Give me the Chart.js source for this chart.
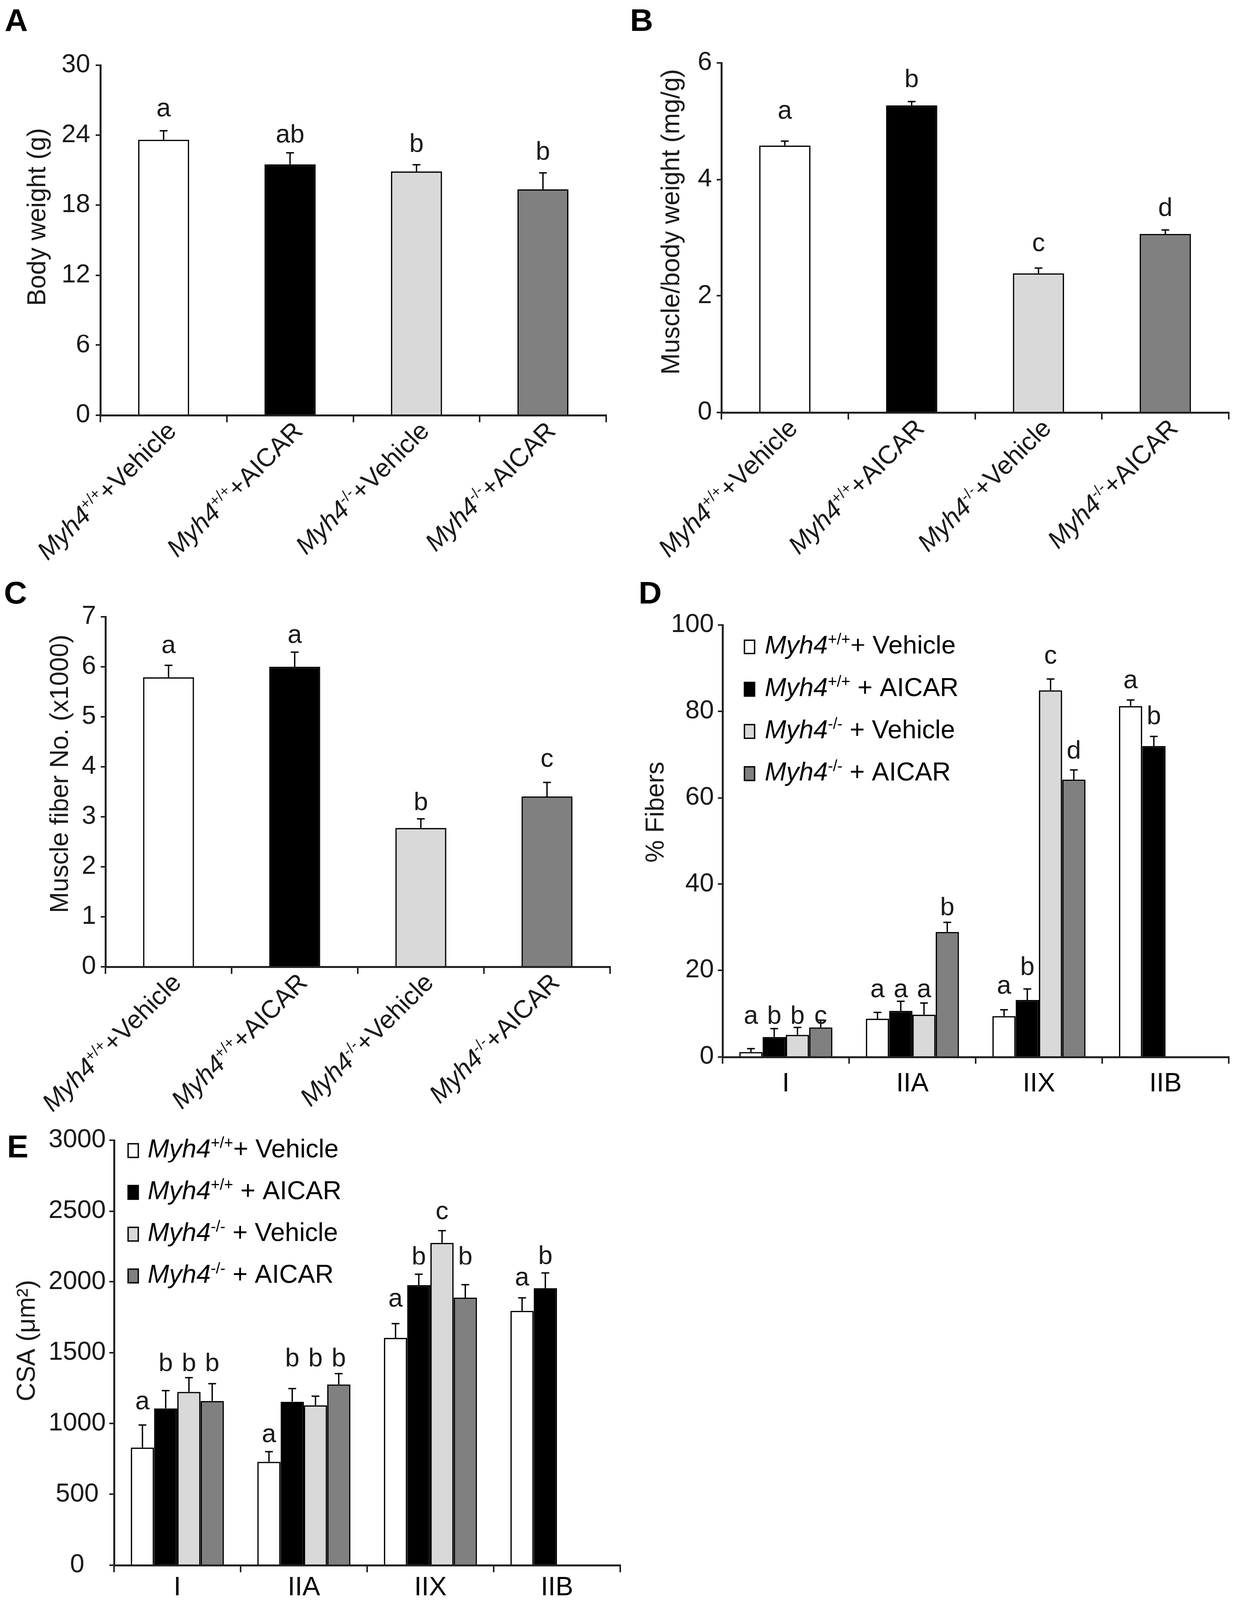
<!DOCTYPE html>
<html><head><meta charset="utf-8">
<script src="https://cdn.jsdelivr.net/npm/chart.js@4.4.1/dist/chart.umd.min.js"></script>
<style>
html,body{margin:0;padding:0;background:#fff;overflow:hidden;}
#root{width:3162px;height:4127px;position:absolute;left:0;top:0;transform-origin:0 0;}
canvas{position:absolute;}
</style></head><body>
<div id="root">
<canvas id="cA"></canvas><canvas id="cB"></canvas><canvas id="cC"></canvas><canvas id="cD"></canvas><canvas id="cE"></canvas>
</div>
<script>
// ---------------- data ----------------
const groupLabels = ['Myh4+/++Vehicle', 'Myh4+/++AICAR', 'Myh4-/-+Vehicle', 'Myh4-/-+AICAR'];
const groupColors = ['#ffffff', '#000000', '#d9d9d9', '#808080'];

const bodyWeightTicks = [0, 6, 12, 18, 24, 30];
const bodyWeight = [23.6, 21.5, 20.9, 19.35];
const bodyWeightErr = [0.76, 0.98, 0.57, 1.43];
const bodyWeightLetters = ['a', 'ab', 'b', 'b'];
const bodyWeightLetterAt = [25.6, 23.35, 22.57, 21.9];

const muscleRatioTicks = [0, 2, 4, 6];
const muscleRatio = [4.58, 5.27, 2.39, 3.06];
const muscleRatioErr = [0.075, 0.065, 0.09, 0.075];
const muscleRatioLetters = ['a', 'b', 'c', 'd'];
const muscleRatioLetterAt = [5.04, 5.58, 2.77, 3.37];

const fiberNoTicks = [0, 1, 2, 3, 4, 5, 6, 7];
const fiberNo = [5.79, 6.0, 2.78, 3.41];
const fiberNoErr = [0.24, 0.29, 0.18, 0.28];
const fiberNoLetters = ['a', 'a', 'b', 'c'];
const fiberNoLetterAt = [6.27, 6.48, 3.13, 4.0];

const fiberTypes = ['I', 'IIA', 'IIX', 'IIB'];
const seriesNames = ['Myh4+/++ Vehicle', 'Myh4+/+ + AICAR', 'Myh4-/- + Vehicle', 'Myh4-/- + AICAR'];

const pctTicks = [0, 20, 40, 60, 80, 100];
const pctWtVehicle = [1.15, 8.8, 9.4, 81.2];
const pctWtAicar = [4.6, 10.6, 13.2, 72.0];
const pctKoVehicle = [5.1, 9.75, 84.9, null];
const pctKoAicar = [6.8, 28.9, 64.2, null];
const pctWtVehicleErr = [0.77, 1.45, 1.46, 1.38];
const pctWtAicarErr = [1.92, 2.3, 2.53, 2.22];
const pctKoVehicleErr = [1.69, 2.76, 2.61, null];
const pctKoAicarErr = [1.69, 2.23, 2.22, null];
const pctWtVehicleLetters = ['a', 'a', 'a', 'a'];
const pctWtAicarLetters = ['b', 'a', 'b', 'b'];
const pctKoVehicleLetters = ['b', 'a', 'c', ''];
const pctKoAicarLetters = ['c', 'b', 'd', ''];
const pctWtVehicleLetterAt = [7.67, 13.8, 14.6, 85.4];
const pctWtAicarLetterAt = [7.67, 13.8, 18.9, 77.0];
const pctKoVehicleLetterAt = [7.67, 13.8, 91.0, null];
const pctKoAicarLetterAt = [7.67, 32.8, 69.0, null];

const csaTicks = [0, 500, 1000, 1500, 2000, 2500, 3000];
const csaWtVehicle = [830, 730, 1604, 1796];
const csaWtAicar = [1107, 1154, 1976, 1955];
const csaKoVehicle = [1223, 1129, 2275, null];
const csaKoAicar = [1159, 1275, 1889, null];
const csaWtVehicleErr = [158, 71, 100, 91];
const csaWtAicarErr = [125, 92, 77, 107];
const csaKoVehicleErr = [100, 64, 86, null];
const csaKoAicarErr = [121, 76, 91, null];
const csaWtVehicleLetters = ['a', 'a', 'a', 'a'];
const csaWtAicarLetters = ['b', 'b', 'b', 'b'];
const csaKoVehicleLetters = ['b', 'b', 'c', ''];
const csaKoAicarLetters = ['b', 'b', 'b', ''];
const csaWtVehicleLetterAt = [1100, 867, 1825, 1974];
const csaWtAicarLetterAt = [1369, 1403, 2122, 2126];
const csaKoVehicleLetterAt = [1369, 1403, 2441, null];
const csaKoAicarLetterAt = [1369, 1403, 2122, null];

// ---------------- drawing helpers ----------------
const FAM = '"Liberation Sans", Arial, Helvetica, sans-serif';
const INK = '#1a1a1a';
const AXIS = '#222222';
Chart.defaults.font.family = FAM;
Chart.defaults.color = INK;

function richParts(text) {
  const m = text.match(/^(Myh4)([+\-]\/[+\-])(.*)$/);
  if (!m) return [{t: text, k: 'n'}];
  return [{t: m[1], k: 'i'}, {t: m[2], k: 's'}, {t: m[3], k: 'n'}];
}
function partFont(k, size) {
  if (k === 'i') return 'italic ' + size + 'px ' + FAM;
  if (k === 's') return Math.round(size * 0.6) + 'px ' + FAM;
  return size + 'px ' + FAM;
}
function drawRich(ctx, text, x, y, size, align) {
  const parts = richParts(text);
  let total = 0;
  parts.forEach(p => { ctx.font = partFont(p.k, size); p.w = ctx.measureText(p.t).width; total += p.w; });
  let cx = align === 'right' ? x - total : x;
  ctx.textAlign = 'left';
  ctx.textBaseline = 'alphabetic';
  parts.forEach(p => {
    ctx.font = partFont(p.k, size);
    ctx.fillText(p.t, cx, p.k === 's' ? y - size * 0.36 : y);
    cx += p.w;
  });
}

function extras(cfg) {
  return {
    id: 'extras' + cfg.panel,
    afterDatasetsDraw(chart) {
      const ctx = chart.ctx, ys = chart.scales.y, xs = chart.scales.x, area = chart.chartArea;
      ctx.save();
      ctx.fillStyle = INK;
      ctx.strokeStyle = '#000';
      // error bars (upper whisker with cap)
      ctx.lineWidth = 3.5;
      chart.data.datasets.forEach((ds, di) => {
        const meta = chart.getDatasetMeta(di);
        meta.data.forEach((el, i) => {
          const v = ds.data[i], e = cfg.errors[di][i];
          if (v == null || e == null) return;
          const yt = ys.getPixelForValue(v + e);
          ctx.beginPath();
          ctx.moveTo(el.x, el.y); ctx.lineTo(el.x, yt);
          ctx.moveTo(el.x - 10, yt); ctx.lineTo(el.x + 10, yt);
          ctx.stroke();
        });
      });
      // significance letters
      ctx.font = '66px ' + FAM;
      ctx.textAlign = 'center';
      ctx.textBaseline = 'alphabetic';
      chart.data.datasets.forEach((ds, di) => {
        const meta = chart.getDatasetMeta(di);
        meta.data.forEach((el, i) => {
          const L = cfg.letters[di][i], at = cfg.letterAt[di][i];
          if (!L || at == null) return;
          ctx.fillText(L, el.x, ys.getPixelForValue(at));
        });
      });
      // rotated category labels
      if (cfg.rotLabels) {
        chart.data.labels.forEach((lab, i) => {
          const cx = xs.getPixelForValue(i);
          ctx.save();
          ctx.translate(cx + 36, area.bottom + 44);
          ctx.rotate(-Math.PI / 4);
          drawRich(ctx, lab, 0, 0, 66, 'right');
          ctx.restore();
        });
      }
      // y axis title
      ctx.save();
      ctx.translate(cfg.titlePos[0], cfg.titlePos[1]);
      ctx.rotate(-Math.PI / 2);
      ctx.font = '66px ' + FAM;
      ctx.textAlign = 'center';
      ctx.textBaseline = 'middle';
      ctx.fillText(cfg.title, 0, 0);
      ctx.restore();
      // panel letter
      ctx.font = 'bold 82px ' + FAM;
      ctx.textAlign = 'left';
      ctx.textBaseline = 'alphabetic';
      ctx.fillStyle = '#000';
      ctx.fillText(cfg.panel, cfg.panelPos[0], cfg.panelPos[1]);
      // legend
      if (cfg.legend) {
        const lg = cfg.legend;
        chart.data.datasets.forEach((ds, di) => {
          const base = lg.y + di * lg.dy;
          ctx.fillStyle = ds.backgroundColor;
          ctx.fillRect(lg.bx, base - 35, 26, 35);
          ctx.lineWidth = 3.5;
          ctx.strokeStyle = '#000';
          ctx.strokeRect(lg.bx, base - 35, 26, 35);
          ctx.fillStyle = '#000';
          drawRich(ctx, ds.label, lg.tx, base, 66, 'left');
        });
      }
      ctx.restore();
    }
  };
}

function makeChart(id, box, area, cfg) {
  const cv = document.getElementById(id);
  cv.width = box.w; cv.height = box.h;
  cv.style.left = box.l + 'px'; cv.style.top = box.t + 'px';
  cv.style.width = box.w + 'px'; cv.style.height = box.h + 'px';
  const yW = area.left - box.l, padTop = area.top - box.t;
  const padRight = box.l + box.w - area.right, xH = box.t + box.h - area.bottom;
  return new Chart(cv, {
    type: 'bar',
    data: {labels: cfg.labels, datasets: cfg.datasets},
    options: {
      responsive: false, animation: false, devicePixelRatio: 1,
      layout: {padding: {top: padTop, right: padRight, left: 0, bottom: 0}},
      plugins: {legend: {display: false}, tooltip: {enabled: false}},
      scales: {
        x: {
          type: 'category', offset: true,
          grid: {display: true, drawOnChartArea: false, drawTicks: true, tickLength: 18, offset: true, color: AXIS, lineWidth: 4},
          border: {display: true, color: AXIS, width: 5},
          ticks: cfg.rotLabels ? {display: false}
            : {display: true, font: {size: 68, lineHeight: 1.0}, color: '#000', padding: cfg.xPad, maxRotation: 0, minRotation: 0, autoSkip: false},
          afterFit: s => { s.height = xH; }
        },
        y: {
          min: 0, max: cfg.ticks[cfg.ticks.length - 1],
          afterBuildTicks: s => { s.ticks = cfg.ticks.map(v => ({value: v})); },
          grid: {display: true, drawOnChartArea: false, drawTicks: true, tickLength: 12, color: AXIS, lineWidth: 4},
          border: {display: true, color: AXIS, width: 5},
          ticks: {font: {size: 66}, color: INK, padding: cfg.tickPad, crossAlign: cfg.crossAlign,
            callback: v => String(v)},
          afterFit: s => { s.width = yW; }
        }
      }
    },
    plugins: [extras(cfg)]
  });
}

function singleSet(values) {
  return [{data: values, backgroundColor: groupColors, borderColor: '#000', borderWidth: 3.5,
    categoryPercentage: 1.0, barPercentage: 0.404}];
}
function groupedSets(list) {
  return list.map((vals, i) => ({label: seriesNames[i], data: vals, backgroundColor: groupColors[i],
    borderColor: '#000', borderWidth: 3.5, categoryPercentage: 0.735, barPercentage: 1.0}));
}

makeChart('cA', {l: 0, t: 0, w: 1580, h: 1480}, {left: 257, top: 168, right: 1552, bottom: 1071}, {
  panel: 'A', panelPos: [12, 80], title: 'Body weight (g)', titlePos: [98, 560], rotLabels: true,
  tickPad: 14, crossAlign: 'near',
  labels: groupLabels, datasets: singleSet(bodyWeight), ticks: bodyWeightTicks,
  errors: [bodyWeightErr], letters: [bodyWeightLetters], letterAt: [bodyWeightLetterAt]
});
makeChart('cB', {l: 1580, t: 0, w: 1582, h: 1480}, {left: 1847, top: 162, right: 3146, bottom: 1064}, {
  panel: 'B', panelPos: [33, 80], title: 'Muscle/body weight (mg/g)', titlePos: [141, 572], rotLabels: true,
  tickPad: 12, crossAlign: 'near',
  labels: groupLabels, datasets: singleSet(muscleRatio), ticks: muscleRatioTicks,
  errors: [muscleRatioErr], letters: [muscleRatioLetters], letterAt: [muscleRatioLetterAt]
});
makeChart('cC', {l: 0, t: 1480, w: 1580, h: 1420}, {left: 270, top: 1591, right: 1562, bottom: 2494}, {
  panel: 'C', panelPos: [10, 77], title: 'Muscle fiber No. (x1000)', titlePos: [156, 516], rotLabels: true,
  tickPad: 12, crossAlign: 'near',
  labels: groupLabels, datasets: singleSet(fiberNo), ticks: fiberNoTicks,
  errors: [fiberNoErr], letters: [fiberNoLetters], letterAt: [fiberNoLetterAt]
});
makeChart('cD', {l: 1580, t: 1480, w: 1582, h: 1400}, {left: 1850, top: 1612, right: 3146, bottom: 2726}, {
  panel: 'D', panelPos: [55, 77], title: '% Fibers', titlePos: [101, 615], rotLabels: false,
  tickPad: 10, crossAlign: 'near', xPad: 18,
  labels: fiberTypes, ticks: pctTicks,
  datasets: groupedSets([pctWtVehicle, pctWtAicar, pctKoVehicle, pctKoAicar]),
  errors: [pctWtVehicleErr, pctWtAicarErr, pctKoVehicleErr, pctKoAicarErr],
  letters: [pctWtVehicleLetters, pctWtAicarLetters, pctKoVehicleLetters, pctKoAicarLetters],
  letterAt: [pctWtVehicleLetterAt, pctWtAicarLetterAt, pctKoVehicleLetterAt, pctKoAicarLetterAt],
  legend: {bx: 326, tx: 378, y: 206, dy: 109}
});
makeChart('cE', {l: 0, t: 2820, w: 1640, h: 1307}, {left: 292, top: 2941, right: 1588, bottom: 4037}, {
  panel: 'E', panelPos: [18, 165], title: 'CSA (\u03bcm\u00b2)', titlePos: [71, 638], rotLabels: false,
  tickPad: 9, crossAlign: 'center', xPad: 7,
  labels: fiberTypes, ticks: csaTicks,
  datasets: groupedSets([csaWtVehicle, csaWtAicar, csaKoVehicle, csaKoAicar]),
  errors: [csaWtVehicleErr, csaWtAicarErr, csaKoVehicleErr, csaKoAicarErr],
  letters: [csaWtVehicleLetters, csaWtAicarLetters, csaKoVehicleLetters, csaKoAicarLetters],
  letterAt: [csaWtVehicleLetterAt, csaWtAicarLetterAt, csaKoVehicleLetterAt, csaKoAicarLetterAt],
  legend: {bx: 328, tx: 378, y: 165, dy: 108}
});

// fit the 3162x4127 drawing into the actual viewport if it is smaller
(function fitViewport() {
  const sx = Math.min(1, window.innerWidth / 3162), sy = Math.min(1, window.innerHeight / 4127);
  if (sx < 0.999 || sy < 0.999) {
    document.getElementById('root').style.transform = 'scale(' + sx + ',' + sy + ')';
  }
})();
</script>
</body></html>
